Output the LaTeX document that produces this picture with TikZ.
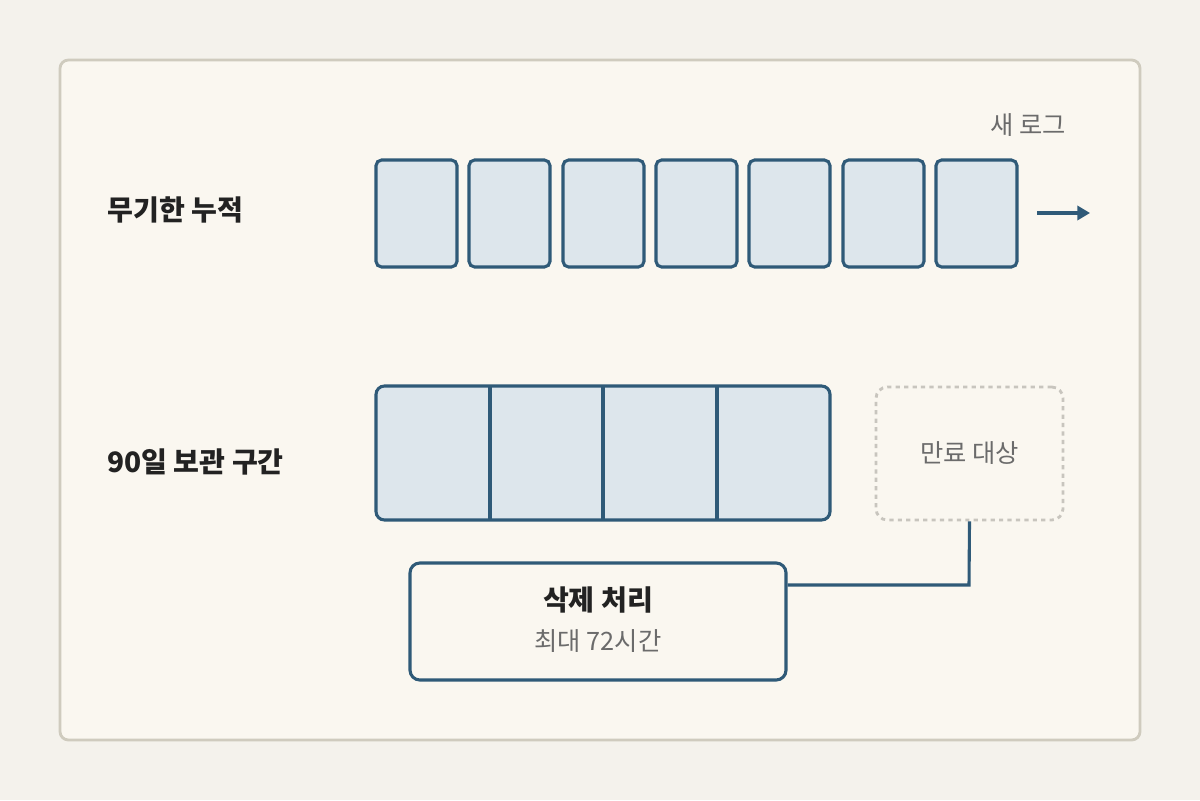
\documentclass[tikz,border=0pt]{standalone}
\usepackage{fontspec}
\setmainfont{Noto Sans CJK KR}
\usetikzlibrary{arrows.meta}
\definecolor{bg}{HTML}{F4F2EC}
\definecolor{panel}{HTML}{FAF7F0}
\definecolor{frame}{HTML}{CFCBBE}
\definecolor{blue}{HTML}{2F5A78}
\definecolor{cell}{HTML}{DDE6EC}
\definecolor{txt}{HTML}{222222}
\definecolor{gtxt}{HTML}{6B6B6B}
\definecolor{dash}{HTML}{C8C5BE}
\tikzset{
 cellbox/.style={draw=blue,fill=cell,line width=2.2pt,rounded corners=4pt},
 lbl/.style={font=\fontsize{20}{24}\selectfont\bfseries,text=txt,anchor=west,inner sep=0},
 gray/.style={font=\fontsize{18}{22}\selectfont,text=gtxt,inner sep=0},
}
\begin{document}
\begin{tikzpicture}[x=0.025cm,y=-0.025cm]
\fill[bg] (0,0) rectangle (1200,800);
\useasboundingbox (0,0) rectangle (1200,800);
\draw[fill=panel,draw=frame,line width=2pt,rounded corners=6pt] (60,60) rectangle (1140,740);
\foreach \a/\b [count=\i] in {376/457,469/550,563/644,656/737,749/830,843/924,936/1017}
  \draw[cellbox] (\a,160) rectangle (\b,267) node[pos=0.5] (c\i) {};
\coordinate (a1) at (1037,213); \coordinate (a2) at (1090,213);
\draw[blue,line width=2.2pt,-{Triangle[length=9pt,width=10pt]}] (a1) -- (a2);
\node[gray] (new) at (1028,125) {새 로그};
\node[lbl] (l1) at (107,210) {무기한 누적};
\node[lbl] (l2) at (107,462) {90일 보관 구간};
\draw[cellbox,rounded corners=6pt] (376,386) rectangle (830,520);
\foreach \x in {490,603,717} \draw[blue,line width=2.2pt] (\x,386) -- (\x,520);
\node[draw=dash,dashed,line width=2pt,rounded corners=8pt,minimum width=187*0.025cm,minimum height=133*0.025cm,gray] (exp) at (969.5,453.5) {만료 대상};
\node[draw=blue,fill=panel,line width=2.2pt,rounded corners=7pt,minimum width=376*0.025cm,minimum height=117*0.025cm] (del) at (598,621.5) {};
\node[font=\fontsize{20}{24}\selectfont\bfseries,text=txt,inner sep=0] (t1) at (598,600) {삭제 처리};
\node[gray] (t2) at (598,641) {최대 72시간};
\coordinate (k) at (969,585);
\draw[blue,line width=2.2pt] (del.east |- k) -- (k) -- (exp.south);
\end{tikzpicture}
\end{document}
